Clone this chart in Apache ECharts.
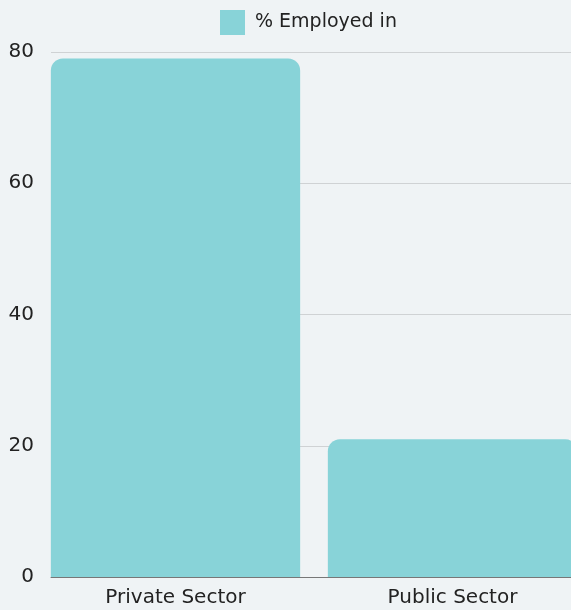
<!DOCTYPE html>
<html>
<head>
<meta charset="utf-8">
<script src="https://cdn.jsdelivr.net/npm/echarts@6/dist/echarts.min.js"></script>
<style>
  html, body { margin: 0; padding: 0; background: #eff3f5; }
  #main { width: 571px; height: 610px; }
</style>
</head>
<body>
<div id="main"></div>
<script>
  // data
  var categories = ['Private Sector', 'Public Sector'];
  var employed = [79, 21];
  var yTicks = { min: 0, max: 80, interval: 20 };

  var chart = echarts.init(document.getElementById('main'));
  var textFont = '"DejaVu Sans", sans-serif';
  var textColor = '#222';

  var option = {
    backgroundColor: '#eff3f5',
    textStyle: { fontFamily: textFont },
    legend: {
      data: ['% Employed in'],
      icon: 'rect',
      left: 215,
      top: 5,
      itemWidth: 25,
      itemHeight: 25,
      itemGap: 10,
      textStyle: { fontSize: 19, color: textColor, fontFamily: textFont, padding: [2, 0, 0, 5] }
    },
    grid: [
      // bars and category labels (wider than the canvas, so the last bar is cut)
      { left: 37, width: 554, top: 52, bottom: 33, outerBoundsMode: 'none', containLabel: false },
      // y axis, grid lines and baseline
      { left: 51, right: 0, top: 52, bottom: 33, outerBoundsMode: 'none', containLabel: false }
    ],
    xAxis: [
      {
        type: 'category',
        gridIndex: 0,
        data: categories,
        axisLine: { show: false },
        axisTick: { show: false },
        axisLabel: { fontSize: 20, color: textColor, margin: 11, fontFamily: textFont }
      },
      {
        type: 'value',
        gridIndex: 1,
        axisLine: { show: true, lineStyle: { color: '#777', width: 1 } },
        axisTick: { show: false },
        axisLabel: { show: false },
        splitLine: { show: false }
      }
    ],
    yAxis: [
      {
        type: 'value',
        gridIndex: 0,
        min: yTicks.min, max: yTicks.max, interval: yTicks.interval,
        axisLine: { show: false },
        axisTick: { show: false },
        axisLabel: { show: false },
        splitLine: { show: false }
      },
      {
        type: 'value',
        gridIndex: 1,
        min: yTicks.min, max: yTicks.max, interval: yTicks.interval,
        axisLine: { show: false },
        axisTick: { show: false },
        axisLabel: { fontSize: 20, color: textColor, margin: 17, padding: [8, 0, 0, 0], fontFamily: textFont },
        splitLine: { show: true, lineStyle: { color: '#cfd2d4', width: 1 } }
      }
    ],
    series: [
      {
        name: '% Employed in',
        type: 'bar',
        xAxisIndex: 0,
        yAxisIndex: 0,
        data: employed,
        barCategoryGap: '10%',
        itemStyle: { color: '#88d3d8', borderRadius: [12, 12, 0, 0] },
        z: 3
      }
    ]
  };

  chart.setOption(option);
</script>
</body>
</html>
